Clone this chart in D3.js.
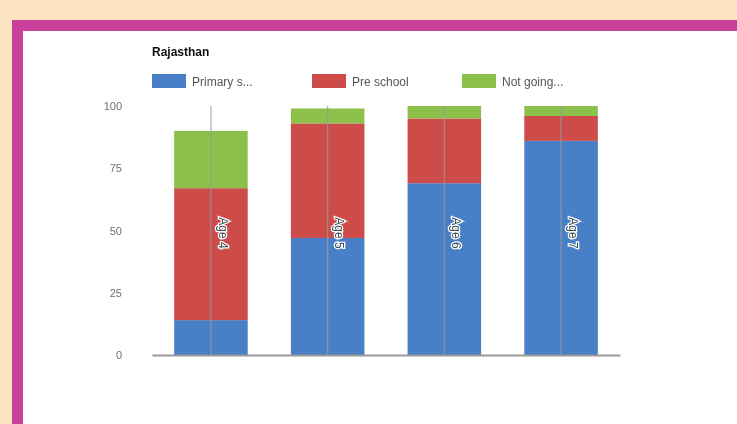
<!DOCTYPE html>
<html>
<head>
<meta charset="utf-8">
<script src="https://cdn.jsdelivr.net/npm/d3@7"></script>
<style>
  html, body { margin: 0; padding: 0; background: #fde2c4; }
  svg { display: block; }
</style>
</head>
<body>
<svg id="chart" width="737" height="424"></svg>
<script>
// School attendance by age, Rajasthan (percent of children)
const title = "Rajasthan";
const categories = ["Age 4", "Age 5", "Age 6", "Age 7"];
const seriesNames = ["Primary s...", "Pre school", "Not going..."];
const primarySchool = [14, 47, 69, 86];
const preSchool = [53, 46, 26, 10];
const notGoing = [23, 6, 5, 4];
const yTicks = [0, 25, 50, 75, 100];
const colors = ["#4a7fc7", "#cd4b48", "#8cc04b"];

const svg = d3.select("#chart");

// soft edge filter for the chart contents
svg.append("defs").append("filter").attr("id", "soft")
  .append("feGaussianBlur").attr("stdDeviation", 0.5);

// page frame: peach backdrop, magenta border, white panel
svg.append("rect").attr("x", 0).attr("y", 0).attr("width", 737).attr("height", 424).attr("fill", "#fde2c4");
svg.append("rect").attr("x", 12).attr("y", 20).attr("width", 725).attr("height", 404).attr("fill", "#c9409b");
svg.append("rect").attr("x", 23).attr("y", 31).attr("width", 714).attr("height", 393).attr("fill", "#ffffff");

const margin = { left: 152, right: 117, top: 106, bottom: 69 };
const width = 737 - margin.left - margin.right;
const height = 424 - margin.top - margin.bottom;

const root = svg.append("g").attr("filter", "url(#soft)");
const g = root.append("g").attr("transform", `translate(${margin.left},${margin.top})`);

const x = d3.scaleBand().domain(categories).range([0, width]).paddingInner(0.37).paddingOuter(0.19);
const y = d3.scaleLinear().domain([0, 100]).range([height, 0]);

const rows = categories.map((c, i) => ({
  cat: c,
  "Primary s...": primarySchool[i],
  "Pre school": preSchool[i],
  "Not going...": notGoing[i]
}));
const stacked = d3.stack().keys(seriesNames)(rows);

// y axis labels
const yAxis = d3.axisLeft(y).tickValues(yTicks).tickSize(0).tickPadding(30);
const ya = g.append("g").call(yAxis);
ya.select(".domain").remove();
ya.selectAll("text")
  .attr("fill", "#707070")
  .style("font-family", "'Liberation Sans', Arial, sans-serif")
  .style("font-size", "11px");

// stacked bars
g.selectAll("g.series").data(stacked).join("g")
  .attr("class", "series")
  .attr("fill", (d, i) => colors[i])
  .selectAll("rect").data(d => d).join("rect")
  .attr("x", d => x(d.data.cat))
  .attr("y", d => y(d[1]))
  .attr("width", x.bandwidth())
  .attr("height", d => y(d[0]) - y(d[1]));

// vertical guide at each category
g.selectAll("line.guide").data(categories).join("line")
  .attr("class", "guide")
  .attr("x1", d => x(d) + x.bandwidth() / 2)
  .attr("x2", d => x(d) + x.bandwidth() / 2)
  .attr("y1", y(100)).attr("y2", y(0))
  .attr("stroke", "#9a9a9a").attr("stroke-opacity", 0.8).attr("stroke-width", 1.2);

// baseline
const xAxis = d3.axisBottom(x).tickSize(0).tickFormat("");
const xa = g.append("g").attr("transform", `translate(0,${height})`).call(xAxis);
xa.select(".domain").attr("stroke", "#9a9a9a").attr("stroke-width", 2);

// rotated category labels with a white halo
g.selectAll("text.cat").data(categories).join("text")
  .attr("class", "cat")
  .attr("transform", d => `translate(${x(d) + x.bandwidth() / 2 + 12},${y(49)}) rotate(90)`)
  .attr("text-anchor", "middle")
  .attr("dy", "0.35em")
  .attr("fill", "#3a4f55")
  .attr("stroke", "#ffffff").attr("stroke-width", 2.5).attr("paint-order", "stroke")
  .style("font-family", "'Liberation Sans', Arial, sans-serif")
  .style("font-size", "12px")
  .text(d => d);

// title
root.append("text")
  .attr("x", 152).attr("y", 56)
  .attr("fill", "#111")
  .style("font-family", "'Liberation Sans', Arial, sans-serif")
  .style("font-size", "12px").style("font-weight", "bold")
  .text(title);

// legend
const legendX = [152, 312, 462];
const legend = root.selectAll("g.legend").data(seriesNames).join("g")
  .attr("class", "legend")
  .attr("transform", (d, i) => `translate(${legendX[i]},74)`);
legend.append("rect").attr("width", 34).attr("height", 14).attr("fill", (d, i) => colors[i]);
legend.append("text")
  .attr("x", 40).attr("y", 11.5)
  .attr("fill", "#555")
  .style("font-family", "'Liberation Sans', Arial, sans-serif")
  .style("font-size", "12px")
  .text(d => d);
</script>
</body>
</html>
